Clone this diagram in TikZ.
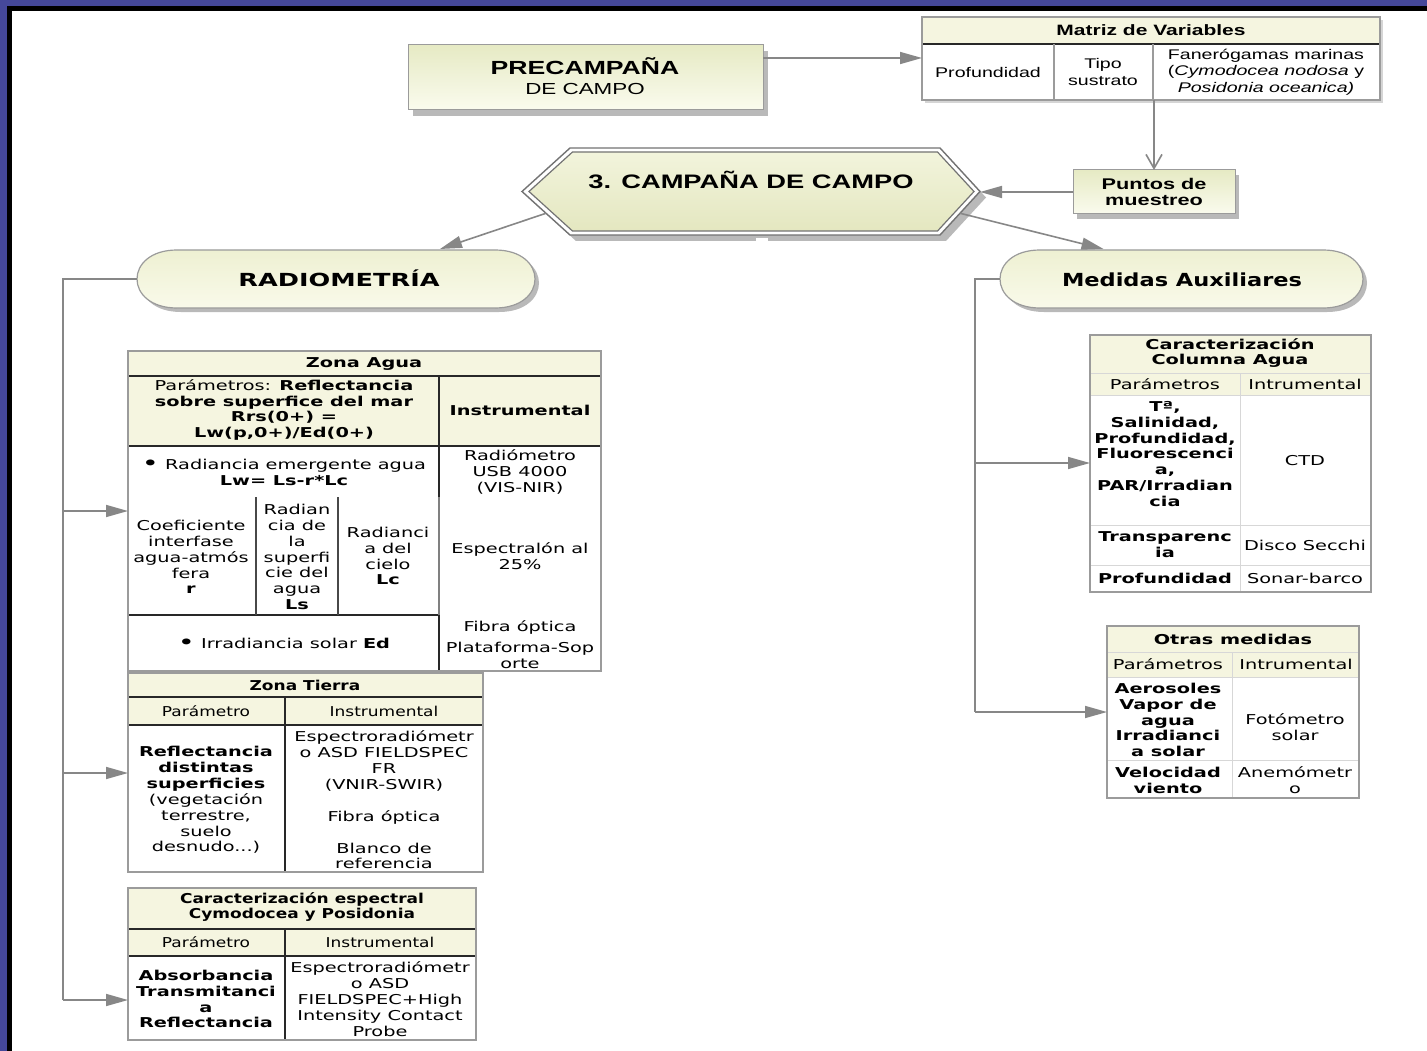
\documentclass[tikz,border=0pt]{standalone}
\usepackage{fontspec}
\setmainfont[FakeStretch=1.42]{DejaVu Sans}
\newfontfamily\hdf[FakeStretch=1.25]{DejaVu Sans}
\newfontfamily\arf[FakeStretch=1.4]{Liberation Sans}
\usetikzlibrary{arrows.meta,calc}
\definecolor{frameblue}{RGB}{69,72,154}
\definecolor{hdr}{RGB}{245,245,224}
\definecolor{boxtop}{RGB}{230,234,196}
\definecolor{boxbot}{RGB}{250,251,238}
\definecolor{stadtop}{RGB}{238,240,210}
\definecolor{stadbot}{RGB}{249,250,234}
\definecolor{hexfill}{RGB}{228,231,192}
\definecolor{hexlight}{RGB}{242,244,220}
\definecolor{hexline}{RGB}{115,115,115}
\definecolor{conn}{RGB}{135,135,135}
\definecolor{tgray}{RGB}{155,155,155}
\definecolor{dk}{RGB}{40,40,40}
\definecolor{lgray}{RGB}{215,215,215}
\definecolor{shad}{RGB}{185,185,185}
\newcommand\bul{\raisebox{-1.5pt}{\scalebox{1.5}{•}}}
\tikzset{
  every node/.append style={inner sep=0pt, outer sep=0pt},
  tx/.style={align=center, font=\fontsize{13.6}{15.9}\selectfont},
  hx/.style={align=center, font=\hdf\fontsize{13.6}{15.9}\selectfont},
  ax/.style={align=center, font=\arf\fontsize{14}{16.5}\selectfont},
  cn/.style={draw=conn, line width=1.6pt},
  arr/.style={cn, -{Triangle[length=22pt,width=12pt]}},
  barb/.style={cn, -{Straight Barb[length=14pt,width=16pt]}},
  tframe/.style={fill=white, anchor=north west},
  border/.style={draw=tgray, line width=1.6pt},
  tsep/.style={draw=dk, line width=2.2pt},
  lsep/.style={draw=lgray, line width=1pt},
  boxsty/.style={draw=tgray, line width=1pt, top color=boxtop, bottom color=boxbot}
}
\begin{document}
\begin{tikzpicture}[x=1pt,y=1pt]
\useasboundingbox (0,0) rectangle (1427,-1051);
\fill[white] (0,0) rectangle (1427,-1051);
% frame
\fill[frameblue] (0,0) rectangle (1427,-6);
\fill[frameblue] (0,0) rectangle (7,-1051);
\fill[black] (7,-6) rectangle (1427,-11);
\fill[black] (7,-6) rectangle (12,-1051);

% PRECAMPANA
\fill[shad] (413,-51) rectangle (768,-116);
\node[boxsty, minimum width=355, minimum height=65, anchor=north west] (prec) at (408,-45) {};
\node[font=\arf\bfseries\fontsize{19}{22}\selectfont, anchor=base] (precA) at (585,-75) {PRECAMPAÑA};
\node[font=\arf\fontsize{16}{19}\selectfont, anchor=base] (precB) at (585,-95) {DE CAMPO};

% Matriz de variables
\fill[shad!60!white] (925,-20) rectangle (1383,-103);
\node[tframe, minimum width=458, minimum height=83] (mat) at (922,-17) {};
\fill[hdr] (922,-17) rectangle (1380,-44);
\draw[tsep, line width=1.8pt] (922,-44) -- (1380,-44);
\draw[tgray, line width=1.2pt] (1054,-44) -- (1054,-100) (1153,-44) -- (1153,-100);
\draw[border] (mat.north west) rectangle (mat.south east);
\node[font=\arf\bfseries\fontsize{15}{17}\selectfont, anchor=base] (matT) at (1151,-36) {Matriz de Variables};
\node[ax] (matA) at (988,-72) {Profundidad};
\node[ax] (matB) at (1103,-72) {Tipo\\sustrato};
\node[ax] (matC) at (1266,-72) {Fanerógamas marinas\\(\textit{Cymodocea nodosa} y\\\textit{Posidonia oceanica)}};

\coordinate (pm) at ($(prec.north east)!0.2!(prec.south east)$);
\draw[arr] (pm) -- (pm -| mat.west);

% Puntos de muestreo
\fill[shad] (1077,-175) rectangle (1239,-219);
\node[boxsty, minimum width=162, minimum height=44, align=center, font=\arf\bfseries\fontsize{15.5}{16.5}\selectfont] (pts) at (1154,-192) {Puntos de\\muestreo};
\draw[barb] (pts.north |- mat.south) -- (pts.north);

% Hexagon
\node[minimum width=458, minimum height=87] (camp) at (751,-191.5) {};
\fill[shad] (528,-197.5) -- (576,-154) -- (946,-154) -- (986,-197.5) -- (946,-241) -- (576,-241) -- cycle;
\draw[fill=white, draw=hexline, line width=1.4pt] (522,-191.5) -- (570,-148) -- (940,-148) -- (980,-191.5) -- (940,-235) -- (570,-235) -- cycle;
\draw[top color=hexlight, bottom color=hexfill, draw=hexline, line width=1.2pt] (529,-191.5) -- (572.5,-152) -- (937.5,-152) -- (974,-191.5) -- (937.5,-231) -- (572.5,-231) -- cycle;
\fill[white] (756,-238) rectangle (768,-248);
\node[font=\arf\bfseries\fontsize{19.5}{22}\selectfont, anchor=base] (campT) at (751,-189) {3. CAMPAÑA DE CAMPO};
\draw[arr] (pts.west) -- (pts.west -| camp.east);

% Stadiums
\node[minimum width=398, minimum height=58] (radio) at (336,-279) {};
\fill[shad] (181,-254) -- (499,-254) .. controls (552.33,-254) and (552.33,-312) .. (499,-312) -- (181,-312) .. controls (127.67,-312) and (127.67,-254) .. (181,-254) -- cycle;
\draw[top color=stadtop, bottom color=stadbot, draw=tgray, line width=1.2pt] (177,-250) -- (495,-250) .. controls (548.33,-250) and (548.33,-308) .. (495,-308) -- (177,-308) .. controls (123.67,-308) and (123.67,-250) .. (177,-250) -- cycle;
\node[font=\bfseries\fontsize{18}{20}\selectfont, anchor=base] (radioT) at (339,-286) {RADIOMETRÍA};

\node[minimum width=363, minimum height=58] (med) at (1181.5,-279) {};
\fill[shad] (1044,-254) -- (1327,-254) .. controls (1380.33,-254) and (1380.33,-312) .. (1327,-312) -- (1044,-312) .. controls (990.67,-312) and (990.67,-254) .. (1044,-254) -- cycle;
\draw[top color=stadtop, bottom color=stadbot, draw=tgray, line width=1.2pt] (1040,-250) -- (1323,-250) .. controls (1376.33,-250) and (1376.33,-308) .. (1323,-308) -- (1040,-308) .. controls (986.67,-308) and (986.67,-250) .. (1040,-250) -- cycle;
\node[font=\hdf\bfseries\fontsize{18}{20}\selectfont, anchor=base] (medT) at (1182,-286) {Medidas Auxiliares};

\draw[arr] ($(camp.west)!0.5!(camp.south west)+(24,0)$) -- ($(radio.north)+(104,1)$);
\draw[arr] ($(camp.east)!0.5!(camp.south east)+(-20,0)$) -- ($(med.north)+(-78,1)$);

% Zona Agua
\node[tframe, minimum width=473, minimum height=320] (zagua) at (128,-351) {};
\fill[hdr] (128,-351) rectangle (601,-446);
\draw[tsep] (128,-376) -- (601,-376) (128,-446) -- (601,-446) (439,-376) -- (439,-497) (439,-615) -- (439,-671) (128,-615) -- (439,-615);
\draw[gray, line width=1.2pt] (439,-497) -- (439,-615);
\draw[dk!85, line width=1.6pt] (256,-497) -- (256,-615) (338,-497) -- (338,-615);
\draw[border] (zagua.north west) rectangle (zagua.south east);
\node[tx, anchor=base] (za0) at (364,-367) {\textbf{Zona Agua}};
\node[tx] (za1) at (284,-410) {Parámetros: \textbf{Reflectancia}\\\textbf{sobre superfice del mar}\\\textbf{Rrs(0+) =}\\\textbf{Lw(p,0+)/Ed(0+)}};
\node[tx, anchor=base] (za2) at (520,-415) {\textbf{Instrumental}};
\node[tx] (za3) at (284,-472) {\bul\ Radiancia emergente agua\\\textbf{Lw= Ls-r*Lc}};
\node[tx] (za4) at (191,-557) {Coeficiente\\interfase\\agua-atmós\\fera\\\textbf{r}};
\node[tx] (za5) at (297,-557) {Radian\\cia de\\la\\superfi\\cie del\\agua\\\textbf{Ls}};
\node[tx] (za6) at (388,-556) {Radianci\\a del\\cielo\\\textbf{Lc}};
\node[tx] (za7) at (520,-472) {Radiómetro\\USB 4000\\(VIS-NIR)};
\node[tx] (za8) at (520,-556) {Espectralón al\\25\%};
\node[tx] (za9) at (520,-645) {Fibra óptica\\[5pt]Plataforma-Sop\\orte};
\node[tx, anchor=base] (za10) at (284,-648) {\bul\ Irradiancia solar \textbf{Ed}};

% Zona Tierra
\node[tframe, minimum width=355, minimum height=199] (ztierra) at (128,-673) {};
\fill[hdr] (128,-673) rectangle (483,-725);
\draw[tsep] (128,-697) -- (483,-697) (128,-725) -- (483,-725) (285,-697) -- (285,-872);
\draw[border] (ztierra.north west) rectangle (ztierra.south east);
\node[hx, anchor=base] (zt0) at (305,-690) {\textbf{Zona Tierra}};
\node[hx, anchor=base] (zt1) at (206,-716) {Parámetro};
\node[hx, anchor=base] (zt2) at (384,-716) {Instrumental};
\node[tx] (zt3) at (206,-800) {\textbf{Reflectancia}\\\textbf{distintas}\\\textbf{superficies}\\(vegetación\\terrestre,\\suelo\\desnudo...)};
\node[tx] (zt4) at (384,-800) {Espectroradiómetr\\o ASD FIELDSPEC\\FR\\(VNIR-SWIR)\\[15.9pt]Fibra óptica\\[15.9pt]Blanco de\\referencia};

% Caracterizacion espectral
\node[tframe, minimum width=348, minimum height=152] (cesp) at (128,-888) {};
\fill[hdr] (128,-888) rectangle (476,-956);
\draw[tsep] (128,-929) -- (476,-929) (128,-956) -- (476,-956) (285,-929) -- (285,-1040);
\draw[border] (cesp.north west) rectangle (cesp.south east);
\node[hx] (ce0) at (302,-907) {\textbf{Caracterización espectral}\\\textbf{Cymodocea y Posidonia}};
\node[hx, anchor=base] (ce1) at (206,-947) {Parámetro};
\node[hx, anchor=base] (ce2) at (380,-947) {Instrumental};
\node[tx] (ce3) at (206,-999) {\textbf{Absorbancia}\\\textbf{Transmitanci}\\\textbf{a}\\\textbf{Reflectancia}};
\node[tx] (ce4) at (380,-999) {Espectroradiómetr\\o ASD\\FIELDSPEC+High\\Intensity Contact\\Probe};

% Caracterizacion Columna Agua
\node[tframe, minimum width=281, minimum height=257] (ccol) at (1090,-335) {};
\fill[hdr] (1090,-335) rectangle (1371,-395);
\draw[lsep] (1090,-373) -- (1371,-373) (1090,-395) -- (1371,-395) (1090,-525) -- (1371,-525) (1090,-565) -- (1371,-565) (1240,-373) -- (1240,-592);
\draw[border] (ccol.north west) rectangle (ccol.south east);
\node[tx] (cc0) at (1230,-353) {\textbf{Caracterización}\\\textbf{Columna Agua}};
\node[tx, anchor=base] (cc1) at (1165,-389) {Parámetros};
\node[tx, anchor=base] (cc2) at (1305,-389) {Intrumental};
\node[tx] (cc3) at (1165,-454) {\textbf{Tª,}\\\textbf{Salinidad,}\\\textbf{Profundidad,}\\\textbf{Fluorescenci}\\\textbf{a,}\\\textbf{PAR/Irradian}\\\textbf{cia}};
\node[tx, anchor=base] (cc4) at (1305,-465) {CTD};
\node[tx] (cc5) at (1165,-545) {\textbf{Transparenc}\\\textbf{ia}};
\node[tx, anchor=base] (cc6) at (1305,-550) {Disco Secchi};
\node[tx, anchor=base] (cc7) at (1165,-583) {\textbf{Profundidad}};
\node[tx, anchor=base] (cc8) at (1305,-583) {Sonar-barco};

% Otras medidas
\node[tframe, minimum width=252, minimum height=172] (otras) at (1107,-626) {};
\fill[hdr] (1107,-626) rectangle (1359,-677);
\draw[lsep] (1107,-652) -- (1359,-652) (1107,-677) -- (1359,-677) (1107,-760) -- (1359,-760) (1232,-652) -- (1232,-798);
\draw[border] (otras.north west) rectangle (otras.south east);
\node[tx, anchor=base] (ot0) at (1233,-644) {\textbf{Otras medidas}};
\node[tx, anchor=base] (ot1) at (1168,-669) {Parámetros};
\node[tx, anchor=base] (ot2) at (1296,-669) {Intrumental};
\node[tx] (ot3) at (1168,-720) {\textbf{Aerosoles}\\\textbf{Vapor de}\\\textbf{agua}\\\textbf{Irradianci}\\\textbf{a solar}};
\node[tx] (ot4) at (1295,-727) {Fotómetro\\solar};
\node[tx] (ot5) at (1168,-780) {\textbf{Velocidad}\\\textbf{viento}};
\node[tx] (ot6) at (1295,-780) {Anemómetr\\o};

% Left bus
\coordinate (lb0) at (63,-279);
\coordinate (lb1) at (63,-511);
\coordinate (lb2) at (63,-773);
\coordinate (lb3) at (63,-1000);
\draw[cn] (radio.west) -- (lb0) -- (lb3);
\draw[arr] (lb1) -- (lb1 -| zagua.west);
\draw[arr] (lb2) -- (lb2 -| ztierra.west);
\draw[arr] (lb3) -- (lb3 -| cesp.west);

% Right bus
\coordinate (rb0) at (975,-279);
\coordinate (rb1) at (975,-463);
\coordinate (rb2) at (975,-712);
\draw[cn] (med.west) -- (rb0) -- (rb2);
\draw[arr] (rb1) -- (rb1 -| ccol.west);
\draw[arr] (rb2) -- (rb2 -| otras.west);
\end{tikzpicture}
\end{document}
